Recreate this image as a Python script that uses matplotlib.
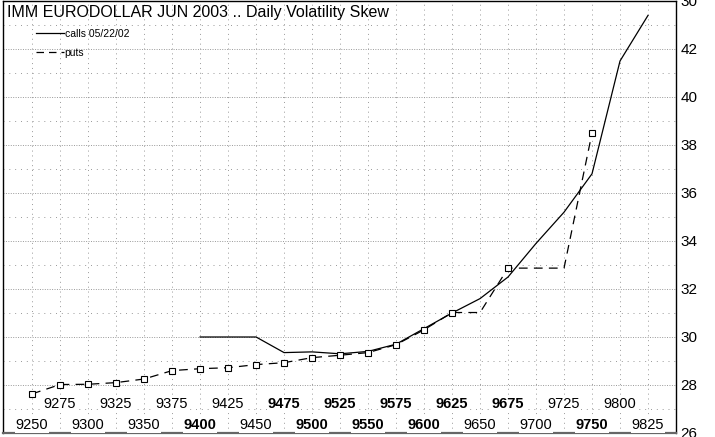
import numpy as np
import matplotlib
matplotlib.use("Agg")
import matplotlib.pyplot as plt
from matplotlib.lines import Line2D
from matplotlib.transforms import blended_transform_factory

plt.rcParams['font.family'] = ['Liberation Sans', 'DejaVu Sans']

# strike labels (9775 is not listed on the chart)
strikes = ['9250', '9275', '9300', '9325', '9350', '9375', '9400', '9425',
           '9450', '9475', '9500', '9525', '9550', '9575', '9600', '9625',
           '9650', '9675', '9700', '9725', '9750', '9800', '9825']
bold_strikes = ['9400', '9475', '9500', '9525', '9550', '9575', '9600',
                '9625', '9675', '9750']

calls = [None, None, None, None, None, None, 30.0, 30.0,
         30.0, 29.35, 29.38, 29.3, 29.4, 29.7, 30.35, 31.0,
         31.6, 32.5, 33.9, 35.2, 36.8, 41.5, 43.4]
puts = [27.63, 28.02, 28.03, 28.1, 28.25, 28.6, 28.68, 28.72,
        28.85, 28.93, 29.14, 29.24, 29.35, 29.68, 30.3, 31.02,
        31.02, 32.87, 32.87, 32.87, 38.5, None, None]
# squares only where a put was actually quoted
put_quoted = [True] * 16 + [False, True, False, False, True, False, False]

y_ticks = [26, 28, 30, 32, 34, 36, 38, 40, 42, 44]
y_labels = ['26', '28', '30', '32', '34', '36', '38', '40', '42', '30']

x = np.arange(len(strikes))
c = np.array([np.nan if v is None else v for v in calls])
p = np.array([np.nan if v is None else v for v in puts])

fig = plt.figure(figsize=(7.15, 4.37), dpi=100)
ax = fig.add_axes([3 / 715, 4 / 437, 673 / 715, 432 / 437])

ax.plot(x, c, color='black', lw=0.9)
ax.plot(x, p, color='black', lw=0.9, linestyle=(0, (7, 5)),
        marker='s', markersize=4.5, markerfacecolor='white', markeredgewidth=0.8,
        markevery=[i for i, q in enumerate(put_quoted) if q])

ax.set_xlim(-1.04, 23.0)
ax.set_ylim(26, 44)

# grid
ax.set_xticks(x)
ax.set_xticklabels([])
ax.set_yticks(y_ticks)
ax.set_yticklabels(y_labels)
ax.set_yticks(np.arange(27, 44, 2), minor=True)
ax.tick_params(axis='x', length=0)
ax.tick_params(axis='y', which='both', length=0, labelleft=False, labelright=True,
               labelsize=11, pad=3)
ax.grid(axis='x', color='#999999', linestyle=(0, (1, 4)), lw=0.7)
ax.grid(axis='y', which='major', color='#999999', linestyle=(0, (1, 1.5)), lw=0.7)
ax.grid(axis='y', which='minor', color='#999999', linestyle=(0, (1, 5)), lw=0.7)
for s in ax.spines.values():
    s.set_linewidth(1.0)
ax.spines['bottom'].set_color('#666666')
ax.spines['bottom'].set_linewidth(1.6)

# strike labels inside the plot, staggered in two rows
tr = blended_transform_factory(ax.transData, ax.transAxes)
for i, s in enumerate(strikes):
    yy = 0.0185 if i % 2 == 0 else 0.067
    ax.text(i, yy, s, transform=tr, ha='center', va='center', fontsize=10.5,
            fontweight='bold' if s in bold_strikes else 'normal',
            bbox=dict(facecolor='white', edgecolor='none', pad=0.5))

ax.text(0.006, 0.9745, 'IMM EURODOLLAR JUN 2003 .. Daily Volatility Skew',
        transform=ax.transAxes, ha='left', va='center', fontsize=11.5)

handles = [Line2D([], [], color='black', lw=0.9),
           Line2D([], [], color='black', lw=0.9, linestyle=(0, (6, 4)))]
ax.legend(handles, ['calls 05/22/02', 'puts'], loc='upper left',
          bbox_to_anchor=(0.042, 0.948), frameon=False, fontsize=7.5,
          handlelength=2.6, handletextpad=0.1, labelspacing=0.9, borderpad=0)

fig.savefig('out.png', dpi=100)
